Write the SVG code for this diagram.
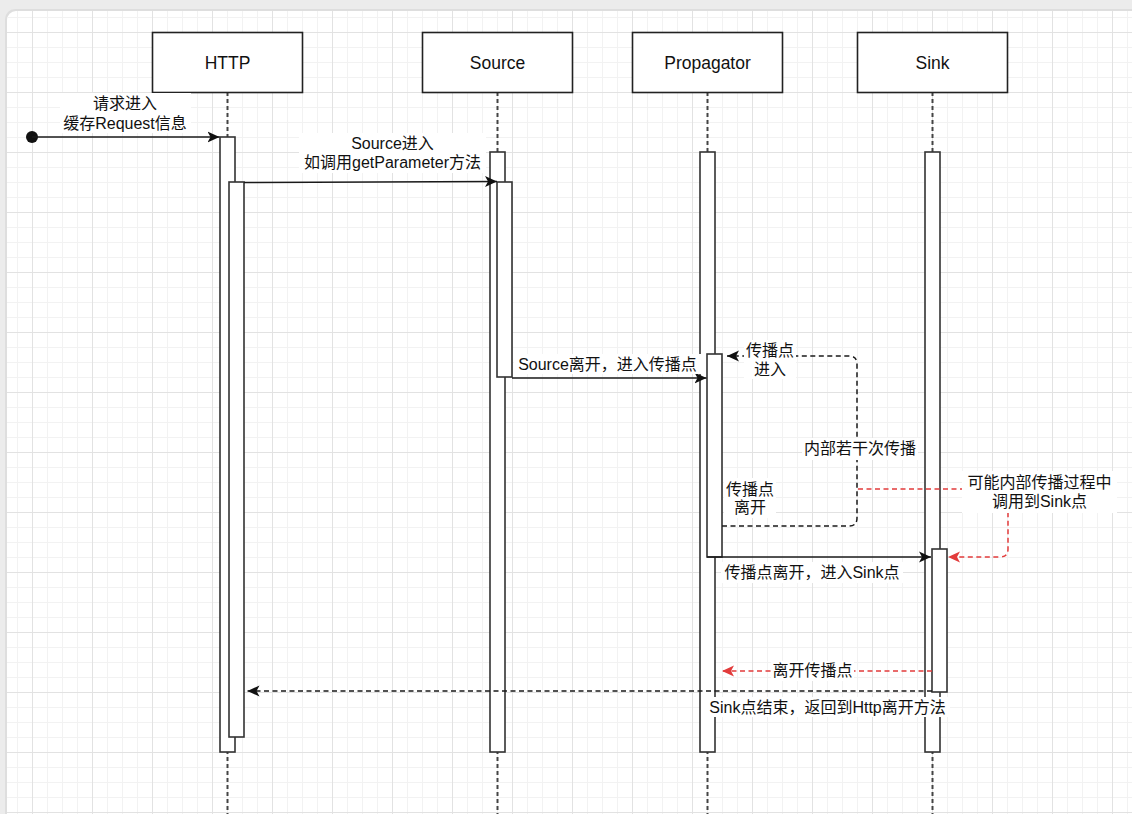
<svg xmlns="http://www.w3.org/2000/svg" width="1132" height="814" viewBox="0 0 1132 814">
<style>
.box{fill:#fff;stroke:#222;stroke-width:1.6}
.bar{fill:#fff;stroke:#333;stroke-width:1.6}
.life{stroke:#444;stroke-width:2;stroke-dasharray:4 3;fill:none}
.title{font-family:"Liberation Sans","Noto Sans CJK SC",sans-serif;font-size:17.5px;fill:#111;text-anchor:middle}
.lbl{font-family:"Liberation Sans","Noto Sans CJK SC",sans-serif;font-size:16px;fill:#111;text-anchor:middle}
.bg{fill:#fff}
.msg{fill:none;stroke:#1a1a1a;stroke-width:1.5}
.dash{stroke-dasharray:5 3.5}
.red{stroke:#e23b3b}
</style>
<defs>
<pattern id="grid" x="32" y="32" width="60" height="60" patternUnits="userSpaceOnUse">
<path d="M15.5,0V60M30.5,0V60M45.5,0V60M0,15.5H60M0,30.5H60M0,45.5H60" stroke="#f2f2f2" stroke-width="1"/>
<path d="M0.5,0V60M0,0.5H60" stroke="#e2e2e2" stroke-width="1"/>
</pattern>
<marker id="ab" viewBox="0 0 12 12" refX="12" refY="6" markerWidth="12" markerHeight="12" markerUnits="userSpaceOnUse" orient="auto">
<path d="M0,0.5L12,6L0,11.5L3,6Z" fill="#111"/>
</marker>
<marker id="ar" viewBox="0 0 12 12" refX="12" refY="6" markerWidth="12" markerHeight="12" markerUnits="userSpaceOnUse" orient="auto">
<path d="M0,0.5L12,6L0,11.5L3,6Z" fill="#e23b3b"/>
</marker>
</defs>
<rect width="1132" height="814" fill="#ececec"/>
<rect x="5" y="9" width="1140" height="820" rx="10" fill="#dedede"/>
<rect x="7" y="11" width="1140" height="820" rx="9" fill="#fff"/>
<rect x="7" y="11" width="1140" height="820" rx="9" fill="url(#grid)"/>

<g id="http">
<line class="life" x1="227.5" y1="92" x2="227.5" y2="814"/>
<rect class="box" x="152.5" y="32.5" width="150" height="60"/>
<text class="title" x="227.5" y="69">HTTP</text>
<rect class="bar" x="220" y="137" width="15" height="615"/>
<rect class="bar" x="229" y="182" width="15" height="555"/>
</g>
<g id="source">
<line class="life" x1="497.5" y1="92" x2="497.5" y2="814"/>
<rect class="box" x="422.5" y="32.5" width="150" height="60"/>
<text class="title" x="497.5" y="69">Source</text>
<rect class="bar" x="490" y="152" width="15" height="600"/>
<rect class="bar" x="497" y="182" width="15" height="195"/>
</g>
<g id="propagator">
<line class="life" x1="707.5" y1="92" x2="707.5" y2="814"/>
<rect class="box" x="632.5" y="32.5" width="150" height="60"/>
<text class="title" x="707.5" y="69">Propagator</text>
<rect class="bar" x="700" y="152" width="15" height="600"/>
<rect class="bar" x="707" y="354" width="15" height="203"/>
</g>
<g id="sink">
<line class="life" x1="932.5" y1="92" x2="932.5" y2="814"/>
<rect class="box" x="857.5" y="32.5" width="150" height="60"/>
<text class="title" x="932.5" y="69">Sink</text>
<rect class="bar" x="925" y="152" width="15" height="600"/>
<rect class="bar" x="932" y="549" width="15" height="143"/>
</g>

<g id="connectors">
<circle cx="32" cy="137" r="6" fill="#111"/>
<path class="msg" d="M32,137H219.5" marker-end="url(#ab)"/>
<rect class="bg" x="60" y="93" width="131" height="40"/>
<text class="lbl" x="125" y="109">请求进入</text>
<text class="lbl" x="125" y="128.5">缓存Request信息</text>

<path class="msg" d="M244,182.5L497,181.5" marker-end="url(#ab)"/>
<rect class="bg" x="299" y="133" width="187" height="40"/>
<text class="lbl" x="392.5" y="148.5">Source进入</text>
<text class="lbl" x="392.5" y="167.5">如调用getParameter方法</text>

<path class="msg" d="M512,378H706.5" marker-end="url(#ab)"/>
<rect class="bg" x="514" y="354" width="188" height="20"/>
<text class="lbl" x="607.5" y="369.5">Source离开，进入传播点</text>

<path class="msg dash" d="M722,526H849Q857,526 857,518V364Q857,356 849,356H727" marker-end="url(#ab)"/>
<rect class="bg" x="744" y="340" width="52" height="39"/>
<text class="lbl" x="770" y="355.5">传播点</text>
<text class="lbl" x="770" y="374.5">进入</text>
<rect class="bg" x="802" y="438" width="116" height="22"/>
<text class="lbl" x="860" y="454">内部若干次传播</text>
<rect class="bg" x="724" y="478" width="52" height="40"/>
<text class="lbl" x="750" y="494.5">传播点</text>
<text class="lbl" x="750" y="513">离开</text>

<path class="msg dash red" d="M858,489H1000Q1008,489 1008,497V549Q1008,557 1000,557H948" marker-end="url(#ar)"/>
<rect class="bg" x="962" y="471" width="155" height="42"/>
<text class="lbl" x="1039.5" y="487.5">可能内部传播过程中</text>
<text class="lbl" x="1039.5" y="506.5">调用到Sink点</text>

<path class="msg" d="M707,557H931" marker-end="url(#ab)"/>
<rect class="bg" x="721" y="562" width="182" height="21"/>
<text class="lbl" x="812" y="578">传播点离开，进入Sink点</text>

<path class="msg dash red" d="M932,671H722" marker-end="url(#ar)"/>
<rect class="bg" x="771" y="661" width="83" height="20"/>
<text class="lbl" x="812.5" y="676">离开传播点</text>

<path class="msg dash" d="M932,691H247.5" marker-end="url(#ab)"/>
<rect class="bg" x="706" y="697" width="244" height="20"/>
<text class="lbl" x="827.5" y="712.5">Sink点结束，返回到Http离开方法</text>
</g>
</svg>
